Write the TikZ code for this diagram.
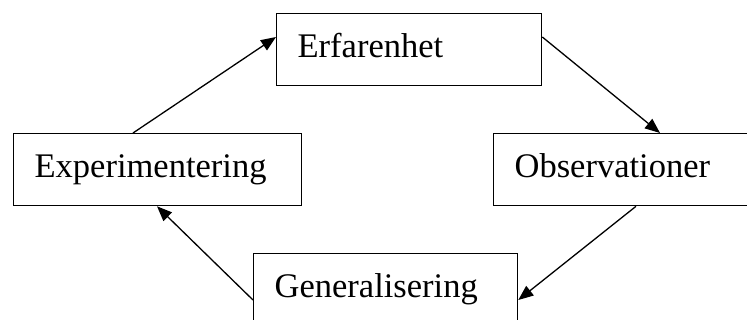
\documentclass[tikz,border=0pt]{standalone}
\usepackage{fontspec}
\setmainfont{Liberation Serif}
\usetikzlibrary{arrows.meta}

\tikzset{
  stage/.style={draw=black, line width=1.3pt, rectangle, anchor=north west,
    inner xsep=21pt, inner ysep=0pt, text height=44pt, text depth=28pt,
    align=left, font=\fontsize{34.5}{40}\selectfont},
  flow/.style={draw=black, line width=1.3pt,
    -{Triangle[length=15pt,width=12pt]}}
}

\begin{document}
\begin{tikzpicture}[x=1pt, y=1pt]
  \useasboundingbox (0,0) rectangle (747,-320);

  % the four stages of the cycle
  \node[stage, text width=223pt] (erf) at (276,-13) {Erfarenhet};
  \node[stage, text width=246pt] (exp) at (13,-133) {Experimentering};
  \node[stage, text width=258pt] (obs) at (493,-133) {Observationer};
  \node[stage, text width=222pt, text depth=60pt] (gen) at (253,-253) {Generalisering};

  % arrows running round the cycle
  \draw[flow] ([xshift=120pt]exp.north west) -- ([yshift=-24pt]erf.north west);
  \draw[flow] ([yshift=-24pt]erf.north east) -- ([xshift=167pt]obs.north west);
  \draw[flow] ([xshift=143pt]obs.south west) -- ([yshift=-47pt]gen.north east);
  \draw[flow] ([yshift=-47pt]gen.north west) -- ([xshift=144pt]exp.south west);
\end{tikzpicture}
\end{document}
